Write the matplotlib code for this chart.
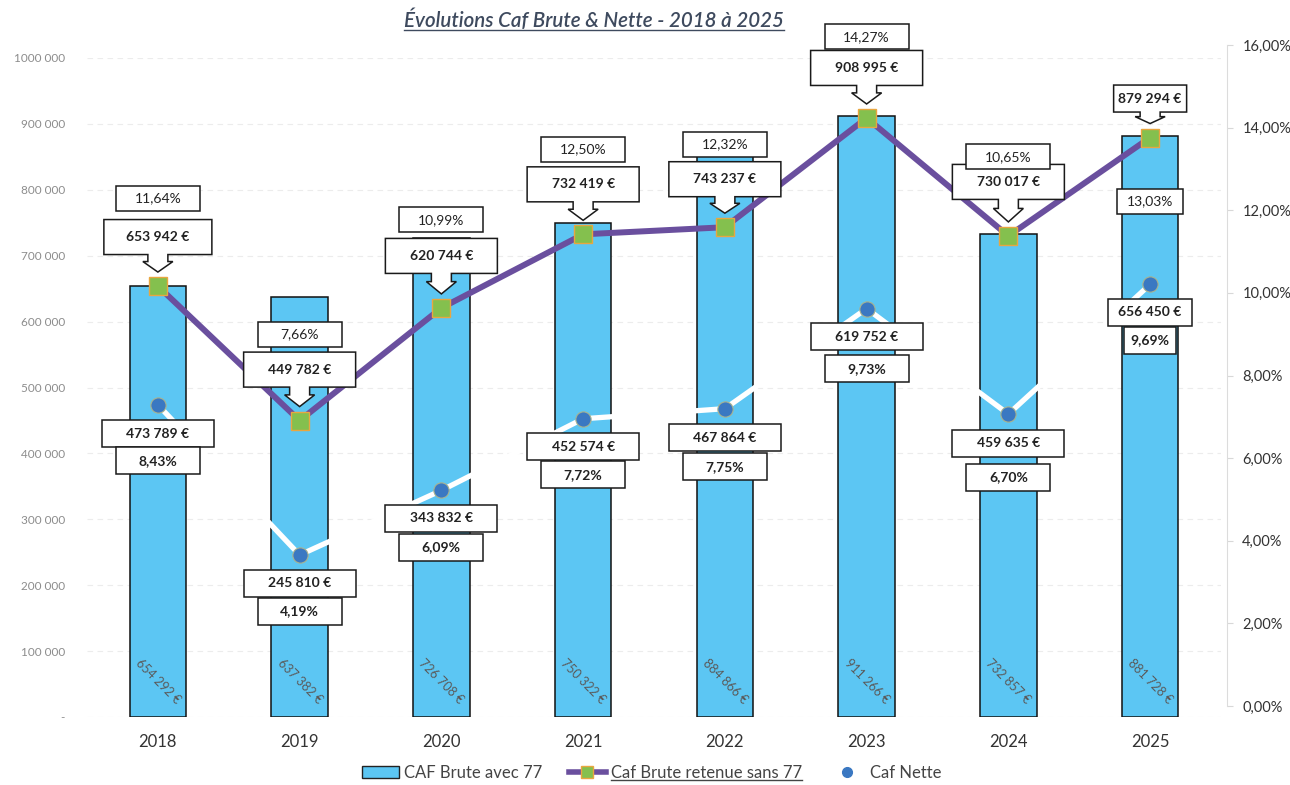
import matplotlib
matplotlib.use('agg')
import matplotlib.pyplot as plt
from matplotlib.transforms import IdentityTransform
from matplotlib.patches import Rectangle, Polygon, Patch
from matplotlib.lines import Line2D
import numpy as np

plt.rcParams['font.family'] = ['Lato', 'DejaVu Sans']

years = ['2018', '2019', '2020', '2021', '2022', '2023', '2024', '2025']
caf_brute_77 = [654292, 637382, 726708, 750322, 884866, 911266, 732857, 881728]
caf_brute_sans_77 = [653942, 449782, 620744, 732419, 743237, 908995, 730017, 879294]
caf_brute_pct = [11.64, 7.66, 10.99, 12.50, 12.32, 14.27, 10.65, 13.03]
caf_nette = [473789, 245810, 343832, 452574, 467864, 619752, 459635, 656450]
caf_nette_pct = [8.43, 4.19, 6.09, 7.72, 7.75, 9.73, 6.70, 9.69]

left_ticks = [0, 100000, 200000, 300000, 400000, 500000, 600000, 700000, 800000, 900000, 1000000]
left_labels = ['-', '100 000', '200 000', '300 000', '400 000', '500 000',
               '600 000', '700 000', '800 000', '900 000', '1000 000']
right_ticks = [0, 2, 4, 6, 8, 10, 12, 14, 16]

# label placement (pixels from the marker, + = up)
brute_box_dy = [49, 51, 52, 50, 48, 50, 54, 39]
brute_box_w = [108, 112, 112, 112, 112, 112, 112, 73]
brute_box_h = [35, 35, 35, 35, 35, 35, 35, 27]
brute_pct_dy = [88, 86, 88, 85, 83, 81, 79, -64]
brute_pct_w = [84, 84, 84, 84, 84, 84, 84, 66]
nette_box_dy = [-29, -28, -28, -28, -29, -28, -29, -28]
nette_box_w = [112, 112, 112, 112, 112, 112, 112, 84]
nette_pct_dy = [-56, -56, -57, -56, -58, -60, -63, -56]
nette_pct_w = [84, 84, 84, 84, 84, 84, 84, 52]

W, H = 1290, 785
BAR_COL = '#5cc6f3'
PURPLE = '#6a4f9e'
GREEN = '#84c04e'
DOT = '#3a78c2'


def euro(v):
    return f"{v:,}".replace(',', ' ') + ' €'


def pct(p):
    return f"{p:.2f}%".replace('.', ',')


fig = plt.figure(figsize=(W / 100, H / 100), dpi=100)
ax = fig.add_axes([87 / W, 1 - 717 / H, (1221 - 87) / W, (717 - 58) / H])
ax2 = fig.add_axes([87 / W, 1 - 706 / H, (1227 - 87) / W, (706 - 45) / H])
ax2.patch.set_visible(False)

x = np.arange(len(years))
ax.bar(x, caf_brute_77, width=0.4, color=BAR_COL, edgecolor='#111111', linewidth=1.1, zorder=2)
ax.plot(x, caf_brute_sans_77, color=PURPLE, lw=4.3, marker='s', ms=12.5,
        mfc=GREEN, mec='#e9a640', mew=1, zorder=4)
ax.plot(x, caf_nette, color='white', lw=3.8, marker='o', ms=11,
        mfc=DOT, mec='#a9b38f', mew=0.8, zorder=3)

ax.set_xlim(-0.5, 7.5)
ax.set_ylim(0, 1000000)
ax.set_yticks(left_ticks, left_labels)
ax.set_xticks(x, years)
ax.tick_params(axis='y', length=0, pad=16, labelsize=8.5, labelcolor='#8c8c8c')
ax.tick_params(axis='x', length=0, pad=12, labelsize=12, labelcolor='#333333')
ax.yaxis.grid(True, color='#ececec', ls=(0, (5, 4)), lw=0.8)
ax.set_axisbelow(True)
for s in ax.spines.values():
    s.set_visible(False)

ax2.set_ylim(0, 16)
ax2.set_xlim(0, 1)
ax2.set_xticks([])
ax2.yaxis.tick_right()
ax2.set_yticks(right_ticks, [pct(t) for t in right_ticks])
ax2.tick_params(axis='y', length=4, color='#d8d8d8', pad=7, labelsize=10.5, labelcolor='#333333')
for k, s in ax2.spines.items():
    s.set_visible(k == 'right')
ax2.spines['right'].set_color('#dcdcdc')
ax2.spines['right'].set_linewidth(0.8)

# bar values, rotated inside the bars
for i, v in enumerate(caf_brute_77):
    ax.annotate(euro(v), xy=(i, 0), xytext=(0, 36), textcoords='offset pixels',
                rotation=-45, ha='center', va='center', fontsize=9, color='#5a5a5a',
                rotation_mode='anchor', zorder=5)

ID = IdentityTransform()


def box(cx, cy, w, h, txt, bold):
    ax.add_patch(Rectangle((cx - w / 2, cy - h / 2), w, h, transform=ID, fc='white',
                           ec='#1a1a1a', lw=1.1, zorder=6, clip_on=False))
    ax.text(cx, cy, txt, transform=ID, ha='center', va='center', fontsize=10,
            fontweight='bold' if bold else 'normal', color='#222222', zorder=7, clip_on=False)


def callout(cx, cy, w, h, tip_y, txt):
    bot = cy - h / 2
    ln = bot - tip_y
    sh = 0.4 * ln
    sw, hw = 20, 30
    pts = [(cx - w / 2, cy + h / 2), (cx + w / 2, cy + h / 2), (cx + w / 2, bot),
           (cx + sw / 2, bot), (cx + sw / 2, bot - sh), (cx + hw / 2, bot - sh),
           (cx, tip_y), (cx - hw / 2, bot - sh), (cx - sw / 2, bot - sh),
           (cx - sw / 2, bot), (cx - w / 2, bot)]
    ax.add_patch(Polygon(pts, closed=True, transform=ID, fc='white', ec='#1a1a1a',
                         lw=1.1, zorder=6, clip_on=False))
    ax.text(cx, cy, txt, transform=ID, ha='center', va='center', fontsize=10,
            fontweight='bold', color='#222222', zorder=7, clip_on=False)


for i in range(len(years)):
    px, py = ax.transData.transform((i, caf_brute_sans_77[i]))
    callout(px, py + brute_box_dy[i], brute_box_w[i], brute_box_h[i], py + 14,
            euro(caf_brute_sans_77[i]))
    box(px, py + brute_pct_dy[i], brute_pct_w[i], 25, pct(caf_brute_pct[i]), False)

    px, py = ax.transData.transform((i, caf_nette[i]))
    box(px, py + nette_box_dy[i], nette_box_w[i], 27, euro(caf_nette[i]), True)
    box(px, py + nette_pct_dy[i], nette_pct_w[i], 27, pct(caf_nette_pct[i]), True)

title = fig.text(594 / W, 1 - 20 / H, 'Évolutions Caf Brute & Nette - 2018 à 2025',
                 ha='center', va='center', fontsize=14.8, style='italic',
                 fontweight='semibold', color='#3e4a5e')

handles = [Patch(fc=BAR_COL, ec='#222222'),
           Line2D([], [], color=PURPLE, lw=4, marker='s', ms=9, mfc=GREEN, mec='#e9a640'),
           Line2D([], [], color='white', lw=3, marker='o', ms=7, mfc=DOT, mec=DOT)]
labels = ['CAF Brute avec 77', 'Caf Brute retenue sans 77', 'Caf Nette']
leg = fig.legend(handles, labels, loc='center', bbox_to_anchor=(652 / W, 1 - 773 / H),
                 ncol=3, frameon=False, fontsize=12, handlelength=2.2,
                 handletextpad=0.3, columnspacing=1.6, labelcolor='#444444')

# underlines (title and selected legend entry)
fig.canvas.draw()
r = fig.canvas.get_renderer()
for t, col in [(title, '#3e4a5e'), (leg.get_texts()[1], '#444444')]:
    bb = t.get_window_extent(r)
    fig.add_artist(Line2D([bb.x0, bb.x1], [bb.y0 + 1, bb.y0 + 1], transform=ID,
                          color=col, lw=1.0))

fig.savefig('out.png', dpi=100)
